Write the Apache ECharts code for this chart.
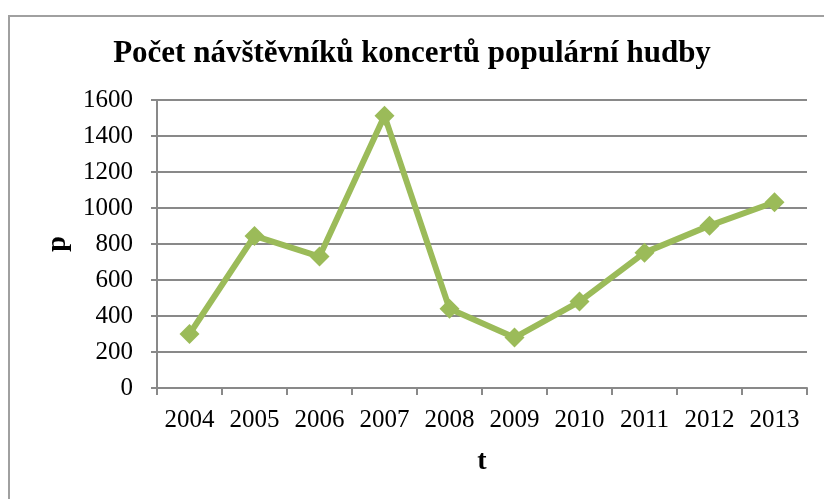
<!DOCTYPE html>
<html>
<head>
<meta charset="utf-8">
<script src="https://cdn.jsdelivr.net/npm/echarts@6/dist/echarts.min.js"></script>
<style>
  html, body { margin: 0; padding: 0; background: #fff; }
  #main { width: 824px; height: 499px; }
</style>
</head>
<body>
<div id="main"></div>
<script>
// data
var years = ['2004', '2005', '2006', '2007', '2008', '2009', '2010', '2011', '2012', '2013'];
var visitors = [300, 845, 730, 1512, 440, 280, 480, 752, 902, 1032];
var titleText = 'Počet návštěvníků koncertů populární hudby';

var myChart = echarts.init(document.getElementById('main'));

var font = '"Liberation Serif", "Times New Roman", serif';
var gridColor = '#898989';

var option = {
  backgroundColor: '#fff',
  animation: false,
  title: {
    text: titleText,
    left: 'center',
    top: 33,
    textStyle: { fontFamily: font, fontSize: 31, fontWeight: 'bold', color: '#000' }
  },
  // outer chart frame
  graphic: [{
    type: 'rect',
    shape: { x: 9, y: 16, width: 830, height: 500 },
    style: { fill: 'none', stroke: '#a0a0a0', lineWidth: 2 }
  }],
  grid: { left: 157, right: 17, top: 100, bottom: 111 },
  xAxis: {
    type: 'category',
    data: years,
    boundaryGap: true,
    name: 't',
    nameLocation: 'middle',
    nameGap: 60,
    nameTextStyle: { fontFamily: font, fontSize: 28, fontWeight: 'bold', color: '#000' },
    axisLine: { lineStyle: { color: gridColor, width: 2 } },
    axisTick: { show: true, length: 7, lineStyle: { color: gridColor, width: 2 } },
    axisLabel: { fontFamily: font, fontSize: 25, color: '#000', margin: 20, interval: 0 }
  },
  yAxis: {
    type: 'value',
    min: 0,
    max: 1600,
    interval: 200,
    name: 'p',
    nameLocation: 'middle',
    nameGap: 84,
    nameRotate: 90,
    nameTextStyle: { fontFamily: font, fontSize: 28, fontWeight: 'bold', color: '#000' },
    axisLine: { show: true, lineStyle: { color: gridColor, width: 2 } },
    axisTick: { show: true, length: 6, lineStyle: { color: gridColor, width: 2 } },
    axisLabel: {
      fontFamily: font, fontSize: 25, color: '#000', margin: 24,
      formatter: function (v) { return String(v); }
    },
    splitLine: { lineStyle: { color: gridColor, width: 2 } }
  },
  series: [{
    type: 'line',
    data: visitors,
    symbol: 'diamond',
    symbolSize: 20,
    lineStyle: { color: '#9bbb59', width: 6 },
    itemStyle: { color: '#9bbb59' }
  }]
};

myChart.setOption(option);
</script>
</body>
</html>
